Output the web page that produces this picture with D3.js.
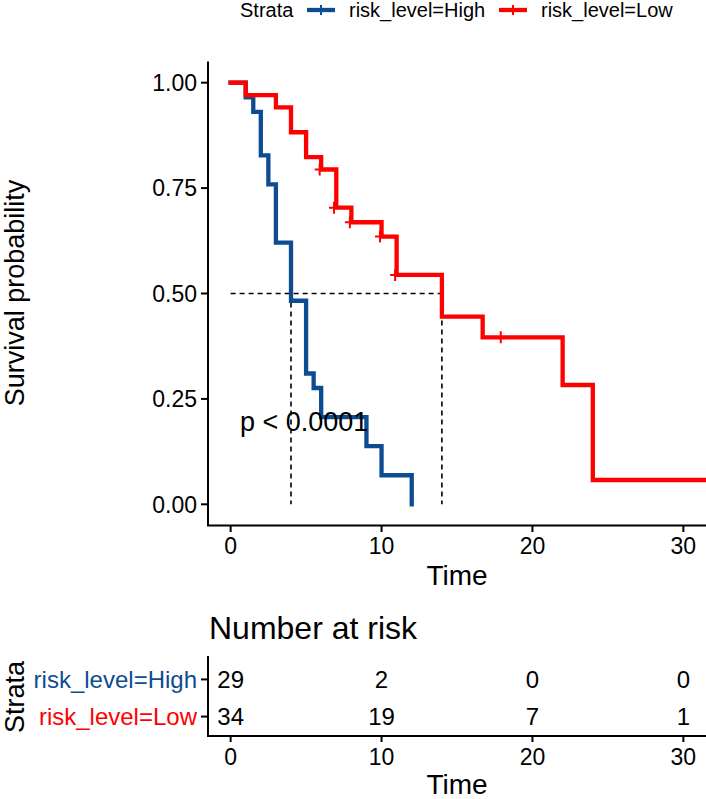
<!DOCTYPE html>
<html><head><meta charset="utf-8">
<script src="https://cdn.jsdelivr.net/npm/d3@7"></script>
<style>body{margin:0;background:#fff}svg{display:block;font-family:"Liberation Sans",Arial,sans-serif}</style>
</head><body>
<script>
// ---- data ----
const strata = ["risk_level=High", "risk_level=Low"];
const colors = ["#0E4C92", "#FF0000"];
const highTimes = [0, 1, 1.5, 2, 2.5, 3, 4, 5, 5.5, 6, 9, 10, 12];
const highSurv  = [1, 0.9655, 0.931, 0.8276, 0.7586, 0.6207, 0.4828, 0.3103, 0.2759, 0.2069, 0.1379, 0.069, 0];
const lowTimes  = [0, 1, 3, 4, 5, 6, 7, 8, 10, 11, 14, 16.7, 22, 24, 31.5];
const lowSurv   = [1, 0.9706, 0.9412, 0.8824, 0.8235, 0.7941, 0.7035, 0.669, 0.635, 0.544, 0.445, 0.396, 0.283, 0.0577, 0.0577];
const lowCensorTimes = [5.9, 6.85, 7.9, 9.9, 10.9, 17.9];
const lowCensorSurv  = [0.7941, 0.7035, 0.669, 0.635, 0.544, 0.396];
const medianTimes = [4, 14];
const xTicks = [0, 10, 20, 30];
const yTicks = [0, 0.25, 0.5, 0.75, 1];
const riskHigh = [29, 2, 0, 0];
const riskLow  = [34, 19, 7, 1];
const pText = "p < 0.0001";

const W = 706, H = 799;
const svg = d3.select("body").append("svg").attr("width", W).attr("height", H);

const x = d3.scaleLinear().domain([-1.5, 31.5]).range([208, 706]);
const y = d3.scaleLinear().domain([-0.05, 1.05]).range([525.4, 61.6]);
const xMid = (x.range()[0] + x.range()[1]) / 2;

const g = svg.append("g");
// median dashed lines
g.append("line").attr("x1", x(0)).attr("x2", x(medianTimes[1])).attr("y1", y(0.5)).attr("y2", y(0.5))
  .attr("stroke", "#000").attr("stroke-width", 1.6).attr("stroke-dasharray", "5,4");
medianTimes.forEach(t => {
  g.append("line").attr("x1", x(t)).attr("x2", x(t)).attr("y1", y(0.5)).attr("y2", y(0))
    .attr("stroke", "#000").attr("stroke-width", 1.6).attr("stroke-dasharray", "5,4");
});

const line = d3.line().x(d => x(d[0])).y(d => y(d[1])).curve(d3.curveStepAfter);
const series = [d3.zip(highTimes, highSurv), d3.zip(lowTimes, lowSurv)];
series.forEach((s, i) => {
  g.append("path").attr("d", line(s)).attr("fill", "none").attr("stroke", colors[i])
    .attr("stroke-width", 4.3).attr("stroke-linejoin", "miter").attr("stroke-linecap", "square");
});
// censor marks
d3.zip(lowCensorTimes, lowCensorSurv).forEach(d => {
  const cx = x(d[0]), cy = y(d[1]);
  g.append("path").attr("d", `M${cx-5},${cy}H${cx+5}M${cx},${cy-6}V${cy+6}`)
    .attr("stroke", colors[1]).attr("stroke-width", 2).attr("fill", "none");
});

// p value
svg.append("text").attr("x", 240).attr("y", 431).attr("font-size", 27).attr("fill", "#000").text(pText);

// axes
const axisCol = "#000";
svg.append("line").attr("x1", 208).attr("x2", 208).attr("y1", 61.6).attr("y2", 525.4).attr("stroke", axisCol).attr("stroke-width", 2);
svg.append("line").attr("x1", 207).attr("x2", 706).attr("y1", 525.4).attr("y2", 525.4).attr("stroke", axisCol).attr("stroke-width", 2);
yTicks.forEach(v => {
  svg.append("line").attr("x1", 201).attr("x2", 208).attr("y1", y(v)).attr("y2", y(v)).attr("stroke", axisCol).attr("stroke-width", 2);
  svg.append("text").attr("x", 197).attr("y", y(v)).attr("dy", "0.36em").attr("text-anchor", "end")
    .attr("font-size", 23).text(d3.format(".2f")(v));
});
xTicks.forEach(v => {
  svg.append("line").attr("x1", x(v)).attr("x2", x(v)).attr("y1", 525.4).attr("y2", 532).attr("stroke", axisCol).attr("stroke-width", 2);
  svg.append("text").attr("x", x(v)).attr("y", 554).attr("text-anchor", "middle").attr("font-size", 23).text(v);
});
svg.append("text").attr("x", xMid).attr("y", 585).attr("text-anchor", "middle").attr("font-size", 28).text("Time");
svg.append("text").attr("transform", "translate(24,293) rotate(-90)").attr("text-anchor", "middle").attr("font-size", 27).text("Survival probability");

// legend
const ly = 10;
svg.append("text").attr("x", 240).attr("y", ly).attr("dy", "0.36em").attr("font-size", 20).text("Strata");
const legX = [307, 499];
strata.forEach((s, i) => {
  const lx = legX[i];
  svg.append("line").attr("x1", lx).attr("x2", lx + 28).attr("y1", ly).attr("y2", ly).attr("stroke", colors[i]).attr("stroke-width", 4.3);
  svg.append("line").attr("x1", lx + 14).attr("x2", lx + 14).attr("y1", ly - 5).attr("y2", ly + 5).attr("stroke", colors[i]).attr("stroke-width", 2);
  svg.append("text").attr("x", lx + 42).attr("y", ly).attr("dy", "0.36em").attr("font-size", 20).text(s);
});

// risk table
svg.append("text").attr("x", 209).attr("y", 639).attr("font-size", 32).text("Number at risk");
const ry = d3.scalePoint().domain(strata).range([659, 737]).padding(0.55);
svg.append("line").attr("x1", 208).attr("x2", 208).attr("y1", 656).attr("y2", 736).attr("stroke", axisCol).attr("stroke-width", 2);
svg.append("line").attr("x1", 207).attr("x2", 706).attr("y1", 736).attr("y2", 736).attr("stroke", axisCol).attr("stroke-width", 2);
strata.forEach((s, i) => {
  svg.append("line").attr("x1", 201).attr("x2", 208).attr("y1", ry(s)).attr("y2", ry(s)).attr("stroke", axisCol).attr("stroke-width", 2);
  svg.append("text").attr("x", 197).attr("y", ry(s)).attr("dy", "0.36em").attr("text-anchor", "end")
    .attr("font-size", 24).attr("fill", colors[i]).text(s);
});
[riskHigh, riskLow].forEach((arr, i) => {
  arr.forEach((n, j) => {
    svg.append("text").attr("x", x(xTicks[j])).attr("y", ry(strata[i])).attr("dy", "0.36em")
      .attr("text-anchor", "middle").attr("font-size", 24).text(n);
  });
});
xTicks.forEach(v => {
  svg.append("line").attr("x1", x(v)).attr("x2", x(v)).attr("y1", 736).attr("y2", 742).attr("stroke", axisCol).attr("stroke-width", 2);
  svg.append("text").attr("x", x(v)).attr("y", 765).attr("text-anchor", "middle").attr("font-size", 23).text(v);
});
svg.append("text").attr("x", xMid).attr("y", 794).attr("text-anchor", "middle").attr("font-size", 28).text("Time");
svg.append("text").attr("transform", "translate(24,697) rotate(-90)").attr("text-anchor", "middle").attr("font-size", 27).text("Strata");
</script>
</body></html>
